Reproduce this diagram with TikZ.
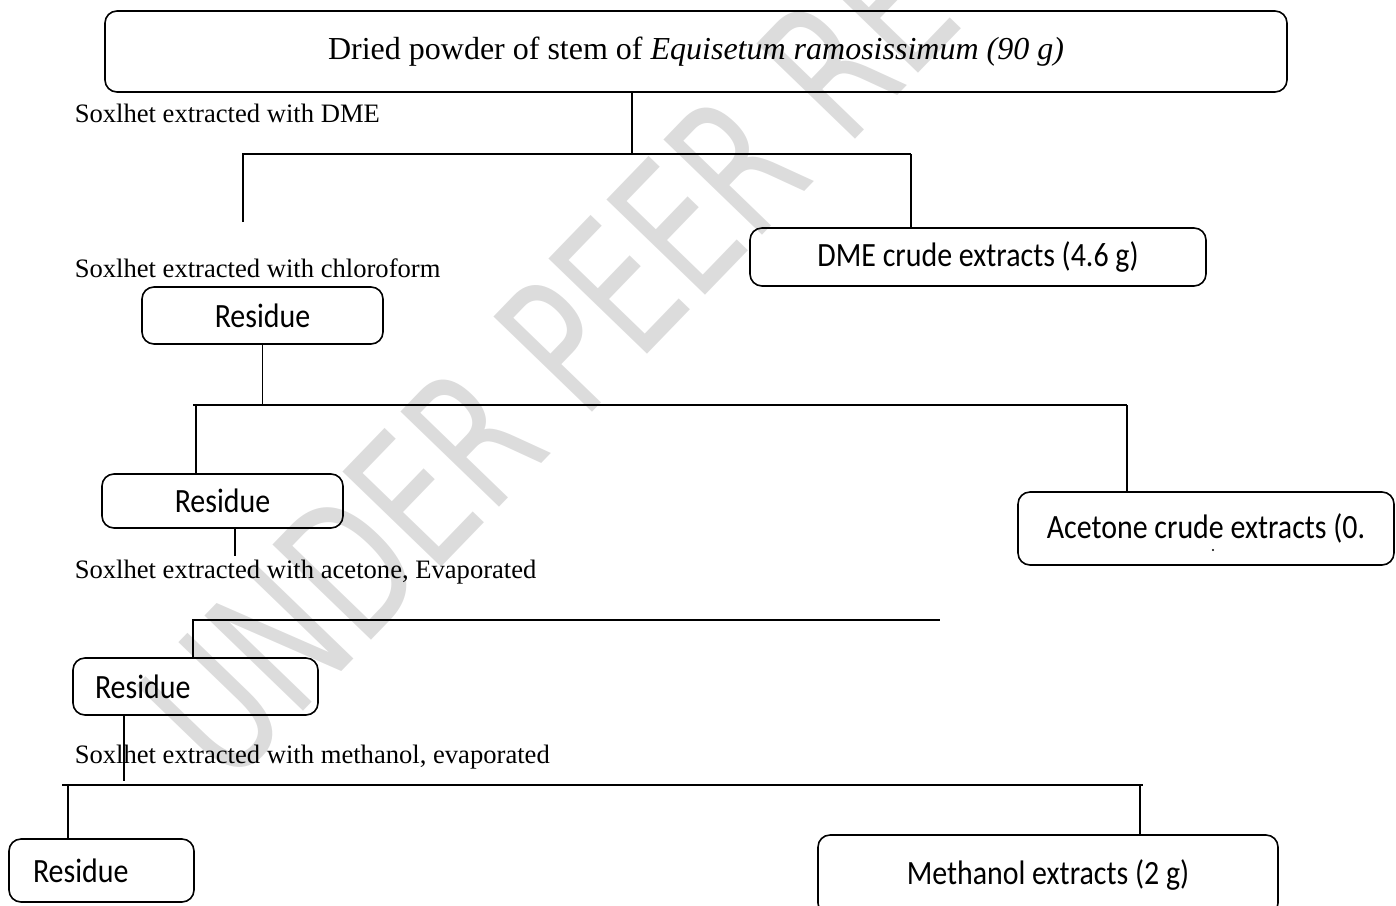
\documentclass[tikz,border=0pt]{standalone}
\usepackage{fontspec}
\setmainfont{Liberation Serif}
\newfontfamily\boxfont[FakeStretch=0.88]{Carlito}
\newfontfamily\markfont[FakeStretch=0.7]{DejaVu Sans}
\definecolor{markGrey}{HTML}{DCDCDC}

\begin{document}
\begin{tikzpicture}[x=0.5pt, y=-0.5pt, line width=0.8pt,
    flowbox/.style={draw, rounded corners=6pt, inner sep=0pt,
                    font=\boxfont\fontsize{17}{20}\selectfont},
    note/.style={anchor=west, inner sep=0pt, font=\fontsize{13.3}{15}\selectfont}]
  \useasboundingbox (0,0) rectangle (1396,905);
  % watermark
  \node[rotate=46, anchor=base west, text=markGrey,
        font=\markfont\fontsize{94}{94}\selectfont] (mark) at (222,795) {UNDER PEER REVIEW};

  \node[flowbox, minimum width=591pt, minimum height=40.5pt,
        font=\fontsize{16}{19}\selectfont] (dried) at (696,51.5)
        {Dried powder of stem of \textit{Equisetum ramosissimum (90 g)}};
  \node[note] (txtDme) at (74,113) {Soxlhet extracted with DME};
  \node[flowbox, minimum width=228pt, minimum height=29pt] (dme) at (978,257) {DME crude extracts (4.6 g)};
  \node[note] (txtChl) at (74,268) {Soxlhet extracted with chloroform};
  \node[flowbox, minimum width=120.5pt, minimum height=28.5pt] (res1) at (262.5,315.5) {Residue};
  \node[flowbox, minimum width=120.5pt, minimum height=27pt] (res2) at (222.5,501) {Residue};
  \node[flowbox, minimum width=188pt, minimum height=36.5pt] (ace) at (1206,528.5) {Acetone crude extracts (0.};
  \fill (1213,550) circle (0.6pt);
  \node[note] (txtAce) at (74,572) {Soxlhet extracted with acetone, Evaporated};
  \node[flowbox, inner xsep=11pt, text width=100.5pt, align=left,
        minimum height=28.5pt] (res3) at (195.5,686.5) {Residue};
  \node[note] (txtMeth) at (74,757) {Soxlhet extracted with methanol, evaporated};
  \node[flowbox, inner xsep=12pt, text width=68.5pt, align=left,
        minimum height=31.5pt] (res4) at (101.5,870.5) {Residue};
  \node[flowbox, minimum width=230pt, minimum height=40pt] (meth) at (1048,875) {Methanol extracts (2 g)};

  % branch points
  \coordinate (top1) at (632,154);
  \coordinate (left1) at (243,154);
  \coordinate (right1) at (911,154);
  \coordinate (end1) at (243,222);
  \coordinate (left2) at (193,405);
  \coordinate (right2) at (1127,405);
  \coordinate (drop2) at (196,405);
  \coordinate (end3) at (235,556);
  \coordinate (left3) at (193,620);
  \coordinate (right3) at (940,620);
  \coordinate (end4) at (124,781);
  \coordinate (left4) at (62,785);
  \coordinate (right4) at (1143,785);
  \coordinate (drop4a) at (68,785);
  \coordinate (drop4b) at (1140,785);

  \draw (dried.south -| top1) -- (top1);
  \draw (end1) -- (left1) -- (right1);
  \draw (res1.south) -- (res1.south |- left2);
  \draw (left2) -- (right2);
  \draw (res2.south -| end3) -- (end3);
  \draw (res3.north -| left3) -- (left3) -- (right3);
  \draw (res3.south -| end4) -- (end4);
  \draw (left4) -- (right4);
  \foreach \c/\n in {right1/dme, drop2/res2, right2/ace, drop4a/res4, drop4b/meth}
    \draw (\c) -- (\c |- \n.north);
\end{tikzpicture}
\end{document}
